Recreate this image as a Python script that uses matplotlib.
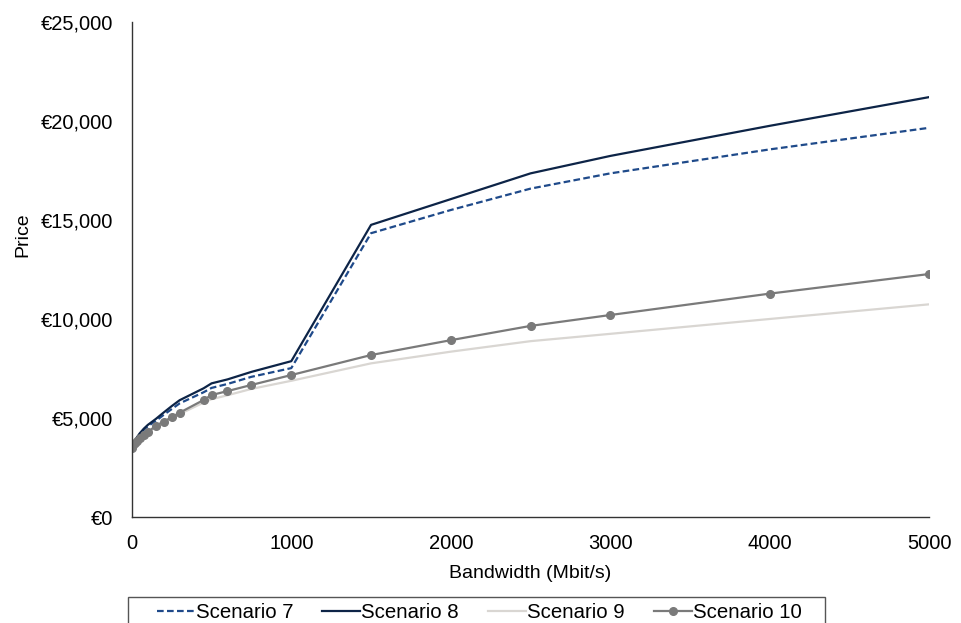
import matplotlib.pyplot as plt
from matplotlib.patches import Rectangle
from matplotlib.ticker import FuncFormatter

plt.rcParams['font.family'] = ['Liberation Sans', 'DejaVu Sans']

# Bandwidth points (Mbit/s)
bandwidth = [0, 10, 20, 30, 50, 75, 100, 150, 200, 250, 300, 450, 500,
             600, 750, 1000, 1500, 2000, 2500, 3000, 4000, 5000]

# Price per scenario (EUR)
scenario_7 = [3500, 3660, 3820, 3960, 4180, 4400, 4580, 4850, 5160, 5450, 5740,
              6300, 6520, 6720, 7080, 7520, 14330, 15500, 16580, 17350, 18560, 19650]
scenario_8 = [3500, 3680, 3850, 4000, 4230, 4460, 4650, 4950, 5280, 5600, 5900,
              6500, 6750, 6950, 7330, 7870, 14750, 16050, 17350, 18230, 19750, 21200]
scenario_9 = [3500, 3610, 3710, 3800, 3950, 4100, 4250, 4560, 4770, 4980, 5200,
              5780, 5950, 6150, 6470, 6880, 7760, 8350, 8880, 9250, 10000, 10740]
scenario_10 = [3500, 3620, 3730, 3830, 3980, 4130, 4280, 4610, 4820, 5040, 5270,
               5910, 6160, 6360, 6670, 7170, 8180, 8930, 9650, 10200, 11280, 12270]

fig = plt.figure(figsize=(9.62, 6.23), dpi=100)
ax = fig.add_axes([0.137, 0.170, 0.829, 0.795])

ax.plot(bandwidth, scenario_7, color='#1F4A8A', linewidth=1.6, linestyle=(0, (3, 1.5)),
        label='Scenario 7')
ax.plot(bandwidth, scenario_8, color='#0D2447', linewidth=1.6, label='Scenario 8')
ax.plot(bandwidth, scenario_9, color='#D9D6D2', linewidth=1.6, label='Scenario 9')
ax.plot(bandwidth, scenario_10, color='#7A7A7A', linewidth=1.6, marker='o',
        markersize=5.5, label='Scenario 10')

ax.set_xlim(0, 5000)
ax.set_ylim(0, 25000)
ax.set_xticks(range(0, 5001, 1000))
ax.set_yticks(range(0, 25001, 5000))
ax.yaxis.set_major_formatter(FuncFormatter(lambda v, p: '€{:,.0f}'.format(v)))
ax.tick_params(length=0, labelsize=14.5, colors='black')
ax.tick_params(axis='x', pad=12)
ax.tick_params(axis='y', pad=13.5)

for s in ['top', 'right']:
    ax.spines[s].set_visible(False)
for s in ['left', 'bottom']:
    ax.spines[s].set_color('#333333')
    ax.spines[s].set_linewidth(1.0)

ax.set_xlabel('Bandwidth (Mbit/s)', fontsize=14, labelpad=9)
ax.set_ylabel('Price', fontsize=14)
ax.yaxis.set_label_coords(-0.1255, 0.57)

# legend box (bottom edge runs off the figure like in the original)
box = Rectangle((128 / 962, -0.05), (825 - 128) / 962, 0.05 + (623 - 597) / 623,
                transform=fig.transFigure, fill=False, edgecolor='#555555', linewidth=1.0)
fig.patches.append(box)

fig.legend(loc='center left', bbox_to_anchor=(157 / 962, 1 - 612.5 / 623),
           borderaxespad=0, borderpad=0, ncol=4, fontsize=14.7, frameon=False,
           handlelength=1.86, handletextpad=0.05, columnspacing=1.42)

fig.savefig('out.png', dpi=100)
